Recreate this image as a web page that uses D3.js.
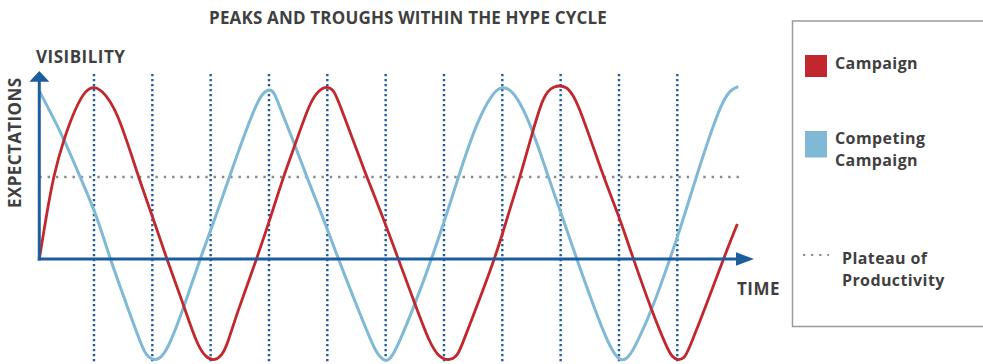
<!DOCTYPE html>
<html>
<head>
<meta charset="utf-8">
<script src="https://cdn.jsdelivr.net/npm/d3@7"></script>
<style>
  html, body { margin: 0; padding: 0; background: #fff; }
  svg { display: block; }
  text { font-family: "Open Sans", "Noto Sans", sans-serif; font-weight: 700; fill: #3f3f3f; font-size: 17px; }
  .legend text { font-size: 16px; letter-spacing: 0.4px; }
</style>
</head>
<body>
<div id="chart"></div>
<script>
// ---------- data ----------
const title = "PEAKS AND TROUGHS WITHIN THE HYPE CYCLE";
const yAxisTitle = "VISIBILITY";
const yAxisSubtitle = "EXPECTATIONS";
const xAxisTitle = "TIME";

const seriesNames = ["Campaign", "Competing Campaign"];
const plateauName = "Plateau of Productivity";

// vertical dotted guides (time units)
const guideTimes = [1, 2, 3, 4, 5, 6, 7, 8, 9, 10, 11];

// plateau of productivity level
const plateauValue = 47.5;

// Campaign (red) – time / value samples
const campaignTime = [0.062, 0.189, 0.302, 0.474, 0.703, 0.863, 0.991, 1.120, 1.389, 1.760, 1.989, 2.246, 2.531,
  2.761, 2.920, 3.074, 3.195, 3.287, 3.446, 3.789, 4.046, 4.245, 4.446, 4.703, 4.858, 4.989, 5.115, 5.217,
  5.675, 5.932, 6.217, 6.503, 6.760, 6.914, 7.074, 7.224, 7.314, 7.446, 7.875, 8.103, 8.304, 8.504, 8.703,
  8.874, 9.104, 9.275, 9.731, 9.988, 10.246, 10.561, 10.818, 10.909, 11.017, 11.120, 11.189, 11.504, 11.789, 12.029];
const campaignValue = [0, 26.1, 47.5, 69.0, 89.3, 98.0, 100, 98.3, 87.4, 47.5, 26.1, 0, -26.1,
  -49.3, -57.4, -59.0, -55.9, -49.3, -31.9, 0, 26.1, 47.5, 66.1, 91.2, 98.0, 100.3, 98.0, 89.3,
  47.5, 26.1, 0, -26.1, -49.3, -56.8, -59.0, -56.8, -49.3, -37.7, 0, 26.1, 47.5, 71.9, 95.1,
  100.5, 100.5, 93.2, 47.5, 26.1, 0, -30.0, -51.2, -56.8, -59.0, -57.4, -53.2, -26.1, 0, 20.3];

// Competing Campaign (light blue)
const competingTime = [0.062, 0.474, 0.760, 1.046, 1.274, 1.617, 1.845, 1.926, 2.046, 2.166, 2.303, 2.560, 2.817,
  3.104, 3.320, 3.618, 3.846, 3.992, 4.086, 4.189, 4.446, 4.647, 4.904, 5.188, 5.560, 5.818, 5.903, 6.006,
  6.109, 6.246, 6.503, 6.789, 7.047, 7.246, 7.561, 7.846, 7.990, 8.132, 8.303, 8.531, 8.789, 9.018, 9.275,
  9.675, 9.903, 10.047, 10.138, 10.246, 10.561, 10.875, 11.132, 11.320, 11.732, 11.904, 12.046];
const competingValue = [97.4, 70.9, 47.5, 25.5, 0, -31.9, -53.2, -56.8, -59.0, -56.8, -49.3, -26.1, 0,
  26.1, 47.5, 75.8, 95.1, 98.6, 97.4, 87.5, 66.1, 47.5, 26.1, 0, -31.9, -53.2, -56.8, -59.7,
  -56.8, -47.4, -26.1, 0, 26.1, 47.5, 79.6, 97.0, 99.9, 98.6, 91.2, 73.8, 47.5, 25.5, 0,
  -37.7, -55.1, -59.3, -57.7, -53.2, -30.0, 0, 26.1, 47.5, 89.3, 98.0, 99.9];

// ---------- layout ----------
const W = 983, H = 364;
const colors = { campaign: "#c1272d", competing: "#7fb9d6", axis: "#1c5d9e", guide: "#1c5d9e", plateau: "#8a8a8a" };

const x = d3.scaleLinear().domain([0, 12]).range([35.67, 735.63]);
const y = d3.scaleLinear().domain([-60, 100]).range([362.5, 86.5]);

const svg = d3.select("#chart").append("svg").attr("width", W).attr("height", H);

const t0 = campaignTime[0];

// guides
svg.append("g").selectAll("line").data(guideTimes).join("line")
  .attr("x1", d => x(d)).attr("x2", d => x(d))
  .attr("y1", y(107.2)).attr("y2", H)
  .attr("stroke", colors.guide).attr("stroke-width", 2.4)
  .attr("stroke-dasharray", "2.2 2.8");

// plateau
svg.append("line")
  .attr("x1", x(t0)).attr("x2", x(12.08))
  .attr("y1", y(plateauValue)).attr("y2", y(plateauValue))
  .attr("stroke", colors.plateau).attr("stroke-width", 2.4)
  .attr("stroke-dasharray", "2.4 5.9");

// curves
const line = d3.line().x(d => x(d[0])).y(d => y(d[1])).curve(d3.curveBasis);
const competingData = competingTime.map((t, i) => [t, competingValue[i]]);
const campaignData = campaignTime.map((t, i) => [t, campaignValue[i]]);

svg.append("path").datum(competingData).attr("d", line)
  .attr("fill", "none").attr("stroke", colors.competing).attr("stroke-width", 3)
  .attr("stroke-linejoin", "round");
svg.append("path").datum(campaignData).attr("d", line)
  .attr("fill", "none").attr("stroke", colors.campaign).attr("stroke-width", 2.8)
  .attr("stroke-linejoin", "round");

// axes
const ox = x(t0), oy = y(0);
svg.append("line").attr("x1", ox).attr("x2", ox).attr("y1", oy + 1.5).attr("y2", 80)
  .attr("stroke", colors.axis).attr("stroke-width", 3);
svg.append("path").attr("d", `M${ox - 10},81.7 L${ox + 10},81.7 L${ox},71 Z`).attr("fill", colors.axis);
svg.append("line").attr("x1", ox - 1.5).attr("x2", 740).attr("y1", oy).attr("y2", oy)
  .attr("stroke", colors.axis).attr("stroke-width", 3);
svg.append("path").attr("d", `M736,${oy - 6.7} L736,${oy + 6.7} L754,${oy} Z`).attr("fill", colors.axis);

// titles
svg.append("text").attr("x", 408).attr("y", 24).attr("text-anchor", "middle")
  .style("letter-spacing", "0.17px").text(title);
svg.append("text").attr("x", 36).attr("y", 63).style("letter-spacing", "0.5px").text(yAxisTitle);
svg.append("text").attr("transform", "translate(20.5,208) rotate(-90)")
  .style("letter-spacing", "0.4px").text(yAxisSubtitle);
svg.append("text").attr("x", 737).attr("y", 295).style("letter-spacing", "0.5px").text(xAxisTitle);

// legend
const lg = svg.append("g").attr("class", "legend");
lg.append("rect").attr("x", 792.5).attr("y", 21).attr("width", 260).attr("height", 305.5)
  .attr("fill", "none").attr("stroke", "#9a9a9a").attr("stroke-width", 1.5);

function multiLine(xPos, yPos, words) {
  const t = lg.append("text").attr("x", xPos).attr("y", yPos);
  words.forEach((w, i) => {
    t.append("tspan").attr("x", xPos).attr("dy", i === 0 ? 0 : 22).text(w);
  });
}

lg.append("rect").attr("x", 805).attr("y", 55).attr("width", 22).attr("height", 22).attr("fill", colors.campaign);
multiLine(835, 69, [seriesNames[0]]);
lg.append("rect").attr("x", 805).attr("y", 131).attr("width", 22).attr("height", 26.5).attr("fill", colors.competing);
multiLine(835, 144, ["Competing", "Campaign"]);
lg.append("line").attr("x1", 803).attr("x2", 829).attr("y1", 255).attr("y2", 255)
  .attr("stroke", colors.plateau).attr("stroke-width", 2.2).attr("stroke-dasharray", "2.2 5.9");
multiLine(842, 264, ["Plateau of", "Productivity"]);
</script>
</body>
</html>
